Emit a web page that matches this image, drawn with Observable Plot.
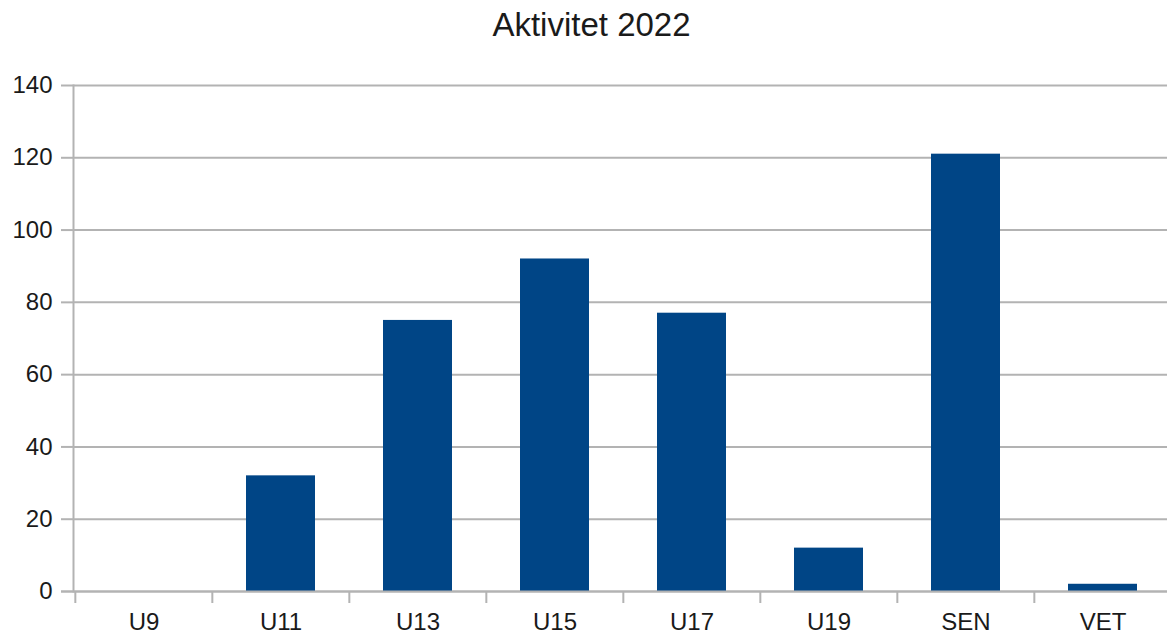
<!DOCTYPE html>
<html>
<head>
<meta charset="utf-8">
<script src="https://cdn.jsdelivr.net/npm/d3@7"></script>
<script src="https://cdn.jsdelivr.net/npm/@observablehq/plot@0.6"></script>
<style>
  html, body { margin: 0; padding: 0; background: #fff; }
  body { width: 1167px; height: 635px; overflow: hidden; font-family: "Liberation Sans", Arial, sans-serif; }
  #title { height: 50px; line-height: 50px; text-align: center; font-size: 33px; color: #1a1a1a; padding-left: 16px; box-sizing: border-box; }
</style>
</head>
<body>
<div id="title">Aktivitet 2022</div>
<div id="chart"></div>
<script>
const categories = ["U9", "U11", "U13", "U15", "U17", "U19", "SEN", "VET"];
const values = [0, 32, 75, 92, 77, 12, 121, 2];
const yTicks = [0, 20, 40, 60, 80, 100, 120, 140];

const data = categories.map((c, i) => ({category: c, value: values[i]}));

const width = 1167, height = 585;
const marginLeft = 73, marginRight = 0, marginTop = 35, marginBottom = 44;
const xRange = [73, 1171.7];
const step = (xRange[1] - xRange[0]) / categories.length;

const chart = Plot.plot({
  width, height, marginLeft, marginRight, marginTop, marginBottom,
  style: {fontFamily: "Liberation Sans, Arial, sans-serif", fontSize: "24px", color: "#1a1a1a", background: "#fff"},
  x: {domain: categories, range: xRange, paddingInner: 0.5, paddingOuter: 0.25, label: null},
  y: {domain: [0, 140], label: null},
  marks: [
    Plot.gridY(yTicks, {stroke: "#b3b3b3", strokeOpacity: 1, strokeWidth: 2}),
    Plot.axisY(yTicks, {tickSize: 12, tickPadding: 9, stroke: "#b3b3b3", strokeWidth: 2, fontSize: 24, label: null}),
    Plot.axisX({tickSize: 12, dx: -step / 2, text: null, stroke: "#b3b3b3", strokeWidth: 2, label: null}),
    Plot.axisX({tickSize: 0, tickPadding: 21, fontSize: 24, label: null}),
    Plot.frame({anchor: "left", stroke: "#b3b3b3", strokeWidth: 2}),
    Plot.barY(data, {x: "category", y: "value", fill: "#004586"}),
    Plot.ruleY([0], {stroke: "#b3b3b3", strokeWidth: 2, insetLeft: -12})
  ]
});
document.getElementById("chart").appendChild(chart);
</script>
</body>
</html>
